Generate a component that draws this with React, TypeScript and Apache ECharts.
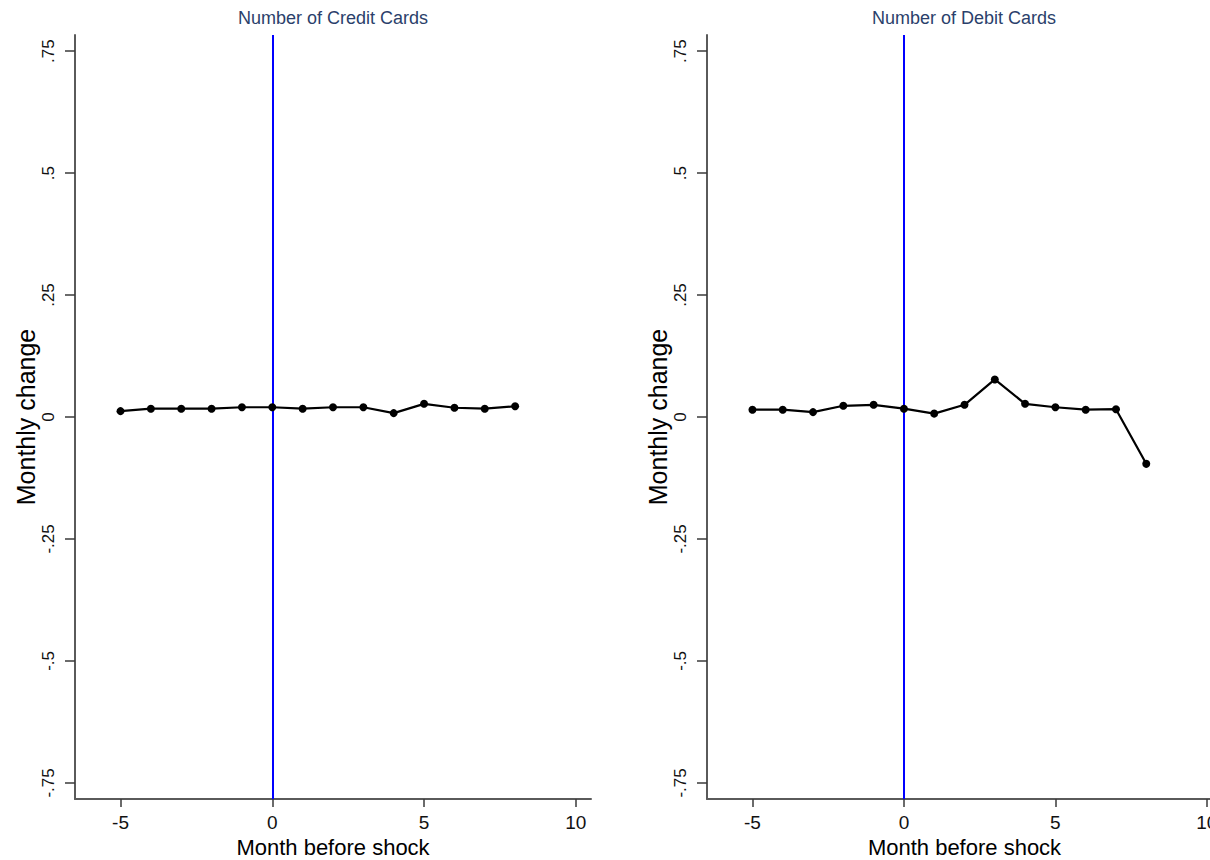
import React, { useEffect, useRef } from "react";
import * as echarts from "echarts";

const months = [-5, -4, -3, -2, -1, 0, 1, 2, 3, 4, 5, 6, 7, 8];
const creditValues = [0.012, 0.017, 0.017, 0.017, 0.02, 0.02, 0.017, 0.02, 0.02, 0.008, 0.027, 0.019, 0.017, 0.022];
const debitValues = [0.015, 0.015, 0.01, 0.023, 0.025, 0.017, 0.007, 0.025, 0.077, 0.027, 0.02, 0.015, 0.016, -0.096];
const yTicks = [-0.75, -0.5, -0.25, 0, 0.25, 0.5, 0.75];
const xTicks = [-5, 0, 5, 10];
const titles = ["Number of Credit Cards", "Number of Debit Cards"];
const shockMonth = 0;

const FONT = "'Liberation Sans', Arial, sans-serif";

function fmtY(v: number): string {
  if (Math.abs(v) < 1e-9) return "0";
  const s = String(v);
  return s.replace(/^(-?)0\./, "$1.");
}

export default function App() {
  const ref = useRef<HTMLDivElement>(null);
  useEffect(() => {
    if (!ref.current) return;
    const chart = echarts.init(ref.current, null, { renderer: "svg" });
    const grids = [
      { left: 75, top: 35, width: 516, bottom: 61, outerBoundsMode: "none", containLabel: false },
      { left: 707, top: 35, width: 515, bottom: 61, outerBoundsMode: "none", containLabel: false },
    ];
    const makeX = (i: number) => ({
      type: "value",
      gridIndex: i,
      min: -6.5,
      max: 10.5,
      splitLine: { show: false },
      axisLine: { onZero: false, lineStyle: { color: "#5a5a5a", width: 2 } },
      axisTick: { customValues: xTicks, length: 8, lineStyle: { color: "#3a3a3a", width: 1.5 } },
      axisLabel: { customValues: xTicks, color: "#111", fontSize: 19, fontFamily: FONT, margin: 14 },
      name: "Month before shock",
      nameLocation: "middle",
      nameGap: 37,
      nameMoveOverlap: false,
      nameTextStyle: { color: "#000", fontSize: 22, fontFamily: FONT },
    });
    const makeY = (i: number) => ({
      type: "value",
      gridIndex: i,
      min: -0.783,
      max: 0.783,
      splitLine: { show: false },
      axisLine: { show: true, onZero: false, lineStyle: { color: "#5a5a5a", width: 2 } },
      axisTick: { show: true, customValues: yTicks, length: 10, lineStyle: { color: "#3a3a3a", width: 1.5 } },
      axisLabel: {
        customValues: yTicks,
        rotate: 90,
        color: "#111",
        fontSize: 17,
        fontFamily: FONT,
        margin: 18,
        formatter: (v: number) => fmtY(v),
      },
      name: "Monthly change",
      nameLocation: "middle",
      nameGap: 37,
      nameMoveOverlap: false,
      nameRotate: 90,
      nameTextStyle: { color: "#000", fontSize: 25, fontFamily: FONT },
    });
    const makeSeries = (i: number, vals: number[]) => ({
      type: "line",
      xAxisIndex: i,
      yAxisIndex: i,
      data: months.map((m, k) => [m, vals[k]]),
      symbol: "circle",
      symbolSize: 8,
      itemStyle: { color: "#000" },
      lineStyle: { color: "#000", width: 2.2 },
      z: 3,
      markLine: {
        silent: true,
        symbol: ["none", "none"],
        label: { show: false },
        lineStyle: { color: "#0000ff", width: 2, type: "solid" },
        data: [{ xAxis: shockMonth }],
        z: 2,
      },
    });
    chart.setOption({
      animation: false,
      backgroundColor: "#ffffff",
      title: titles.map((t, i) => ({
        text: t,
        left: i === 0 ? 333 : 964,
        top: 9,
        padding: 0,
        textAlign: "center",
        textStyle: { color: "#2b3f6b", fontSize: 18, fontWeight: "normal", fontFamily: FONT },
      })),
      grid: grids,
      xAxis: [makeX(0), makeX(1)],
      yAxis: [makeY(0), makeY(1)],
      series: [makeSeries(0, creditValues), makeSeries(1, debitValues)],
    });
    return () => chart.dispose();
  }, []);
  return (
    <div style={{ position: "fixed", left: 0, top: 0, width: 1210, height: 860, overflow: "hidden", background: "#fff" }}>
      <div ref={ref} style={{ width: 1240, height: 860 }} />
    </div>
  );
}
